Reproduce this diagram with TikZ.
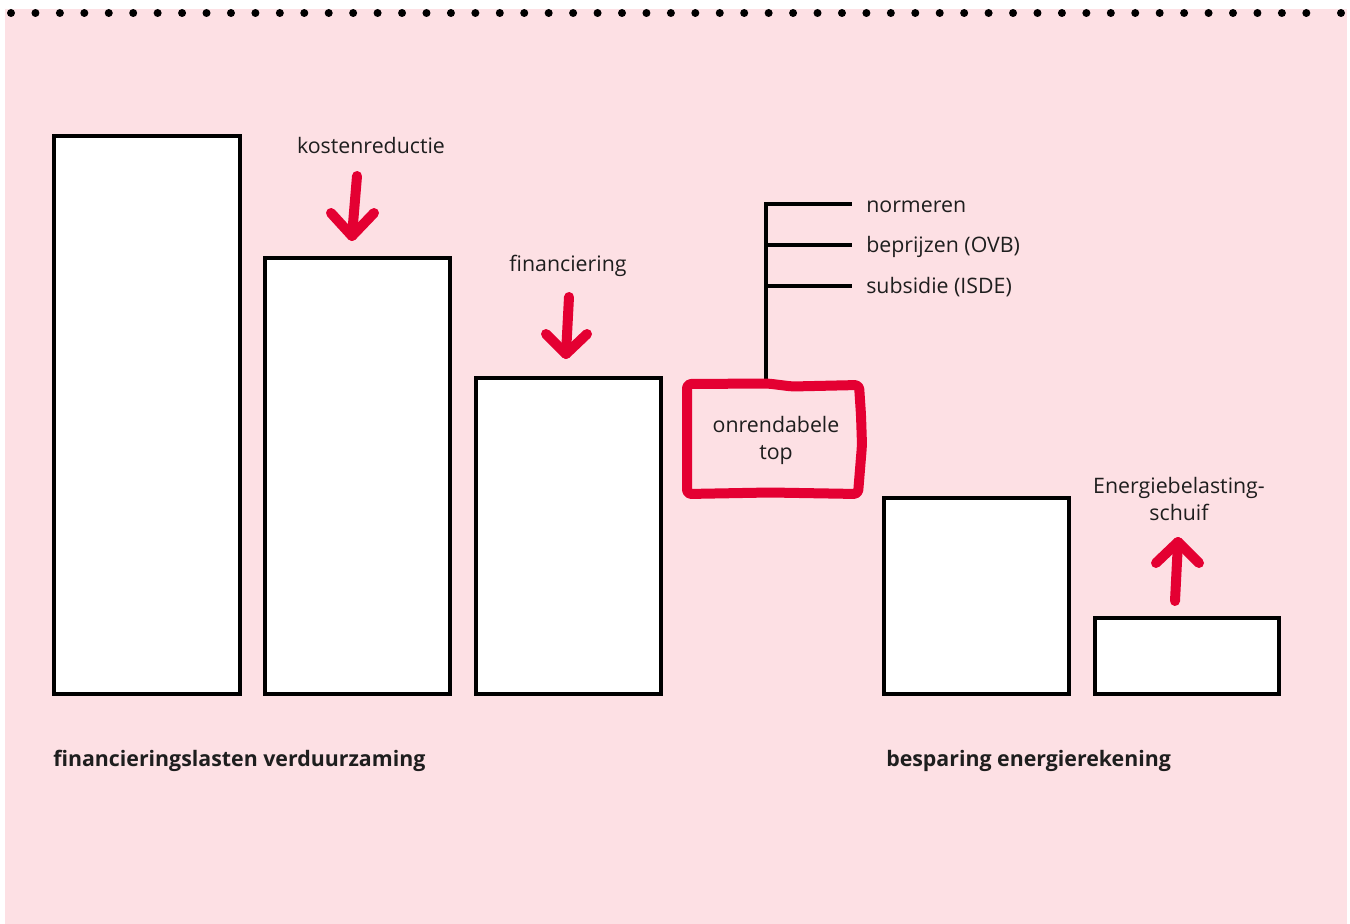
\documentclass[tikz,border=0pt]{standalone}
\usepackage{fontspec}
\setmainfont{Open Sans}
\definecolor{bgpink}{RGB}{253,224,228}
\definecolor{accred}{RGB}{228,0,50}
\definecolor{txt}{RGB}{30,30,30}
\begin{document}
\begin{tikzpicture}[x=0.75pt,y=-0.75pt,
  bar/.style={draw=black,line width=3pt,fill=white},
  redarrow/.style={draw=accred,line width=7.5pt,line cap=round,line join=round},
  lbl/.style={text=txt,font=\fontsize{16}{20.2}\selectfont,inner sep=0pt,align=center},
  boldlbl/.style={text=txt,font=\fontsize{16}{20.2}\selectfont\bfseries,inner sep=0pt,anchor=west},
  treeline/.style={draw=black,line width=3pt}]
\useasboundingbox (0,0) rectangle (1350,924);
\fill[white] (0,0) rectangle (1350,924);
\fill[bgpink] (5,9) rectangle (1347,924);
% dotted top border
\foreach \k in {0,...,53} {\fill[black] (11+24.44*\k,13) circle (4);}
\fill[black] (1341,13) circle (4);
% bars
\draw[bar] (54,136) rectangle (240,694);
\draw[bar] (265,258) rectangle (450,694);
\draw[bar] (476,378) rectangle (661,694);
\draw[bar] (884,498) rectangle (1069,694);
\draw[bar] (1095,618) rectangle (1279,694);
% labels
\node[lbl] (kr) at (371,145) {kostenreductie};
\node[lbl] (fin) at (568,266) {financiering};
\node[lbl] (onr) at (776,440) {onrendabele\\top};
\node[lbl] (ebs) at (1179,499) {Energiebelasting-\\schuif};
\node[boldlbl] (fl) at (53,761) {financieringslasten verduurzaming};
\node[boldlbl] (be) at (886,761) {besparing energierekening};
% tree
\coordinate (tb) at (766,382);
\node[lbl,anchor=west] (n1) at (866,207) {normeren};
\node[lbl,anchor=west] (n2) at (866,247) {beprijzen (OVB)};
\node[lbl,anchor=west] (n3) at (866,287) {subsidie (ISDE)};
\draw[treeline,line cap=butt] (tb) -- (766,203.5) -- (852,203.5);
\draw[treeline] (766,245) -- (852,245);
\draw[treeline] (766,286) -- (852,286);
% red box (hand-drawn)
\draw[accred,line width=7.5pt,line join=round,rounded corners=3pt]
  (687,384) -- (768,383.5) -- (792,386.5) -- (859,385) -- (861,415) -- (862,445) -- (858,494)
  -- (770,492.5) -- (687,494) -- cycle;
% arrows
\draw[redarrow] (357,176) -- (352,236);
\draw[redarrow] (331,213) -- (352,236) -- (374,213);
\draw[redarrow] (569,297) -- (566,354);
\draw[redarrow] (546,334) -- (566,354) -- (587,334);
\draw[redarrow] (1175,601) -- (1178,542);
\draw[redarrow] (1156,563) -- (1178,542) -- (1199,563);
\end{tikzpicture}
\end{document}
